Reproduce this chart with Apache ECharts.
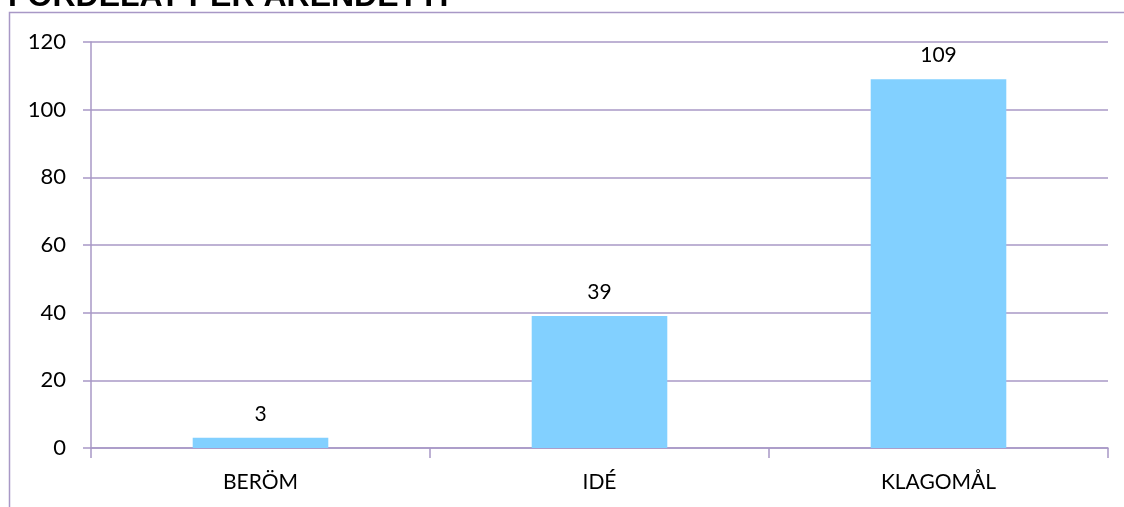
<!DOCTYPE html>
<html>
<head>
<meta charset="utf-8">
<script src="https://cdn.jsdelivr.net/npm/echarts@6/dist/echarts.min.js"></script>
<style>
  html, body { margin: 0; padding: 0; background: #fff; }
  #chart { width: 1124px; height: 507px; }
</style>
</head>
<body>
<div id="chart"></div>
<script>
// data
const chartTitle = 'FÖRDELAT PER ÄRENDETYP'
const categories = ['BERÖM', 'IDÉ', 'KLAGOMÅL']
const counts = [3, 39, 109]

const lineColor = '#a898c6'
const barColor = '#82d0ff'
const font = 'Lato, "Open Sans", sans-serif'

const myChart = echarts.init(document.getElementById('chart'))

const option = {
    animation: false,
    graphic: [
        // outer frame, cut by the right/bottom edges like the screenshot
        {
            type: 'rect',
            shape: { x: 9.5, y: 12.5, width: 1300, height: 700 },
            style: { fill: 'none', stroke: lineColor, lineWidth: 1.5 },
            silent: true
        },
        {
            type: 'text',
            left: 8,
            top: -19,
            style: { text: chartTitle, font: 'bold 32px "Liberation Sans", Arial, sans-serif', fill: '#000' }
        }
    ],
    grid: { left: 91, right: 16, top: 42, bottom: 59 },
    xAxis: {
        type: 'category',
        data: categories,
        axisLine: { show: true, lineStyle: { color: lineColor, width: 1.5 } },
        axisTick: { show: true, length: 10, lineStyle: { color: lineColor, width: 1.5 } },
        axisLabel: { color: '#000', fontSize: 21, fontFamily: font, margin: 24 }
    },
    yAxis: {
        type: 'value',
        min: 0,
        max: 120,
        interval: 20,
        axisLine: { show: true, lineStyle: { color: lineColor, width: 1.5 } },
        axisTick: { show: true, length: 8, lineStyle: { color: lineColor, width: 1.5 } },
        splitLine: { show: true, lineStyle: { color: lineColor, width: 1.5 } },
        axisLabel: { color: '#000', fontSize: 22, fontFamily: font, margin: 25 }
    },
    series: [
        {
            type: 'bar',
            data: counts,
            barWidth: '40%',
            itemStyle: { color: barColor },
            label: { show: true, position: 'top', distance: 13, color: '#000', fontSize: 21, fontFamily: font }
        }
    ]
}
myChart.setOption(option)
</script>
</body>
</html>
